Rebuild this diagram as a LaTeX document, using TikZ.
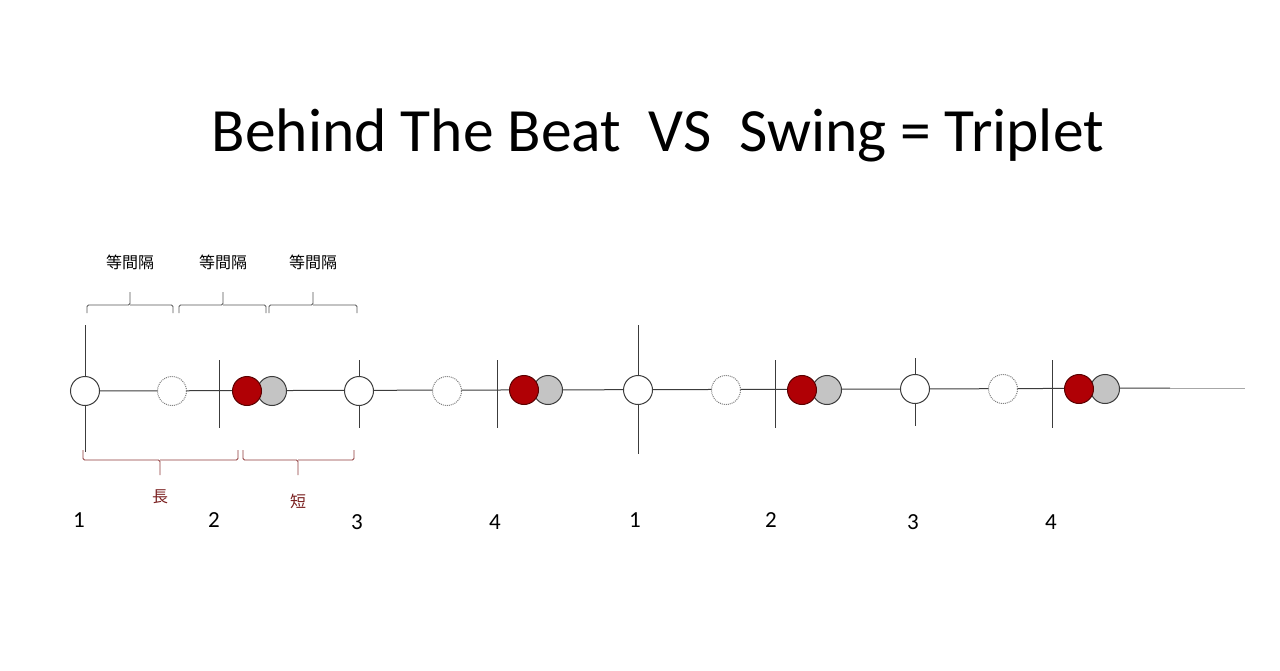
\documentclass[tikz,border=0pt]{standalone}
\usepackage{fontspec}
\setmainfont{Carlito}
\newfontfamily\jafont{Noto Sans CJK JP}
\usetikzlibrary{backgrounds}
\definecolor{lineGray}{HTML}{3C3C3C}
\definecolor{braceGray}{HTML}{555555}
\definecolor{braceRed}{HTML}{8E3A3A}
\definecolor{swingRed}{HTML}{B00005}
\definecolor{swingRedEdge}{HTML}{5A0000}
\definecolor{swingGray}{HTML}{C4C4C4}
\definecolor{labelRed}{HTML}{7A2020}
\begin{document}
\begin{tikzpicture}
[x=1pt,y=-1pt,%
  beatCircle/.style={circle,draw=lineGray,fill=white,line width=1pt,
    minimum size=29pt,inner sep=0pt},%
  offCircle/.style={beatCircle,draw=gray,densely dotted},%
  redCircle/.style={beatCircle,draw=swingRedEdge,fill=swingRed},%
  grayCircle/.style={beatCircle,fill=swingGray},%
  beatLine/.style={draw=lineGray,line width=1pt},%
  upperBrace/.style={draw=braceGray,line width=0.9pt,rounded corners=1.5pt},%
  lowerBrace/.style={draw=braceRed,line width=0.9pt,rounded corners=1.5pt},%
  numberText/.style={anchor=base,font=\fontsize{23}{26}\selectfont},%
  kanjiText/.style={font=\jafont\fontsize{16}{18}\selectfont}]
\useasboundingbox (0,0) rectangle (1280,671);
%% title
\node (title) at (658,152) [anchor=base,font=\fontsize{61.5}{70}\selectfont]
{Behind The Beat\ \ VS\ \ Swing = Triplet};
%% on-beat circles, off-beat circles and swung pairs
\foreach \nodename/\x/\y in {b1/85/391, b3/359/391, c1/638/390, c3/915/389}
{
  \node (\nodename) at (\x,\y) [beatCircle] {};
}
\foreach \nodename/\x/\y in {o1/172/391, o2/447/391, o3/726/390, o4/1003/389}
{
  \node (\nodename) at (\x,\y) [offCircle] {};
}
\foreach \nodename/\xr/\xg/\y in {s1/247/272/391, s2/524/548/390,
  s3/802/827/390, s4/1079/1105/389}
{
  \node (\nodename g) at (\xg,\y) [grayCircle] {};
  \node (\nodename r) at (\xr,\y) [redCircle] {};
}
\coordinate (lineFade) at (1170,388);
\coordinate (lineEnd) at (1245,388);
%% the time line and the bar ticks
\begin{scope}[on background layer]
\fill[white] (0,0) rectangle (1280,671);
\draw[beatLine] (b1.center) -- (c3.center) -- (lineFade);
\draw[draw=lineGray!45,line width=1pt] (lineFade) -- (lineEnd);
\foreach \x in {219, 497, 775, 1052}
{
  \draw[beatLine] (\x,360) -- (\x,428);
}
\end{scope}
\draw[beatLine] (b1.north) -- (85,325);
\draw[beatLine] (b1.south) -- (85,452);
\draw[beatLine] (c1.north) -- (638,325);
\draw[beatLine] (c1.south) -- (638,454);
\draw[beatLine] (b3.north) -- (359,360);
\draw[beatLine] (b3.south) -- (359,428);
\draw[beatLine] (c3.north) -- (915,358);
\draw[beatLine] (c3.south) -- (915,426);
%% equal spacing braces above
\foreach \l/\m/\r/\nodename in {87/130/173/e1, 179/223/266/e2, 269/313/357/e3}
{
  \draw[upperBrace] (\l,313) |- (\m,305) -- (\m,292);
  \draw[upperBrace] (\m,305) -| (\r,313);
  \node (\nodename) at (\m,262) [kanjiText] {等間隔};
}
%% long and short braces below
\draw[lowerBrace] (83,450) |- (160,460) -- (160,475);
\draw[lowerBrace] (160,460) -| (238,450);
\draw[lowerBrace] (243,450) |- (298,460) -- (298,475);
\draw[lowerBrace] (298,460) -| (354,450);
\node (long) at (160,497) [kanjiText,text=labelRed] {長};
\node (short) at (298,501) [kanjiText,text=labelRed] {短};
%% beat numbers
\foreach \nodename/\x/\y/\beat in {n1/79/527/1, n2/214/527/2, n3/357/529/3,
  n4/495/529/4, n5/635/527/1, n6/771/527/2, n7/913/529/3, n8/1051/529/4}
{
  \node (\nodename) at (\x,\y) [numberText] {\beat};
}
\end{tikzpicture}
\end{document}
